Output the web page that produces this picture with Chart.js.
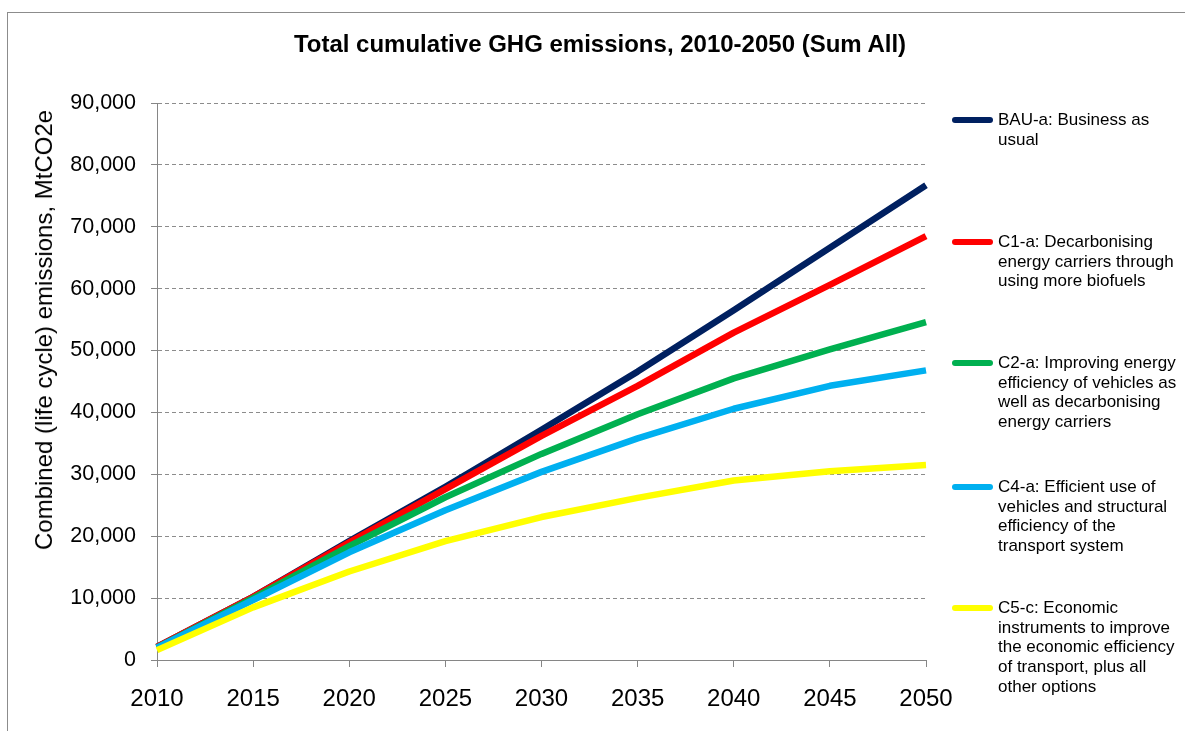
<!DOCTYPE html>
<html>
<head>
<meta charset="utf-8">
<script src="https://cdn.jsdelivr.net/npm/chart.js@4.4.0/dist/chart.umd.min.js"></script>
<style>
  html, body { margin: 0; padding: 0; background: #fff; width: 1185px; height: 731px; overflow: hidden; font-family: "Liberation Sans", Arial, sans-serif; }
  #frame { position: absolute; left: 7px; top: 12px; width: 1300px; height: 900px; border-left: 1px solid #8c8c8c; border-top: 1px solid #8c8c8c; }
  #wrap { position: absolute; left: 0; top: 0; width: 1185px; height: 731px; }
  #title { position: absolute; left: 0; width: 1200px; top: 30px; text-align: center; font-weight: bold; font-size: 24px; line-height: 28px; color: #000; white-space: nowrap; }
  #ytitle { position: absolute; left: 44px; top: 330px; transform: translate(-50%, -50%) rotate(-90deg); font-size: 24px; white-space: nowrap; color: #000; }
  .leg-line { position: absolute; height: 6px; border-radius: 3px; width: 41px; left: 952px; }
  .leg-text { position: absolute; left: 998px; font-size: 17px; line-height: 19.7px; color: #000; white-space: pre; }
</style>
</head>
<body>
<div id="frame"></div>
<div id="wrap"><canvas id="c" width="1185" height="731"></canvas></div>
<div id="title">Total cumulative GHG emissions, 2010-2050 (Sum All)</div>
<div id="ytitle">Combined (life cycle) emissions, MtCO2e</div>
<div id="legend"></div>
<script>
const years = ["2010", "2015", "2020", "2025", "2030", "2035", "2040", "2045", "2050"];
const yTicks = [0, 10000, 20000, 30000, 40000, 50000, 60000, 70000, 80000, 90000];

const bauA = [2100, 10200, 19200, 28000, 37200, 46600, 56500, 66600, 76700];
const c1A  = [2100, 10200, 19000, 27600, 36200, 44300, 52900, 60600, 68500];
const c2A  = [2000, 10000, 18400, 26300, 33300, 39700, 45500, 50200, 54600];
const c4A  = [2000,  9700, 17400, 24200, 30400, 35800, 40600, 44300, 46800];
const c5C  = [1600,  8500, 14300, 19200, 23100, 26200, 29000, 30500, 31500];

const seriesNames = [
  "BAU-a: Business as\nusual",
  "C1-a: Decarbonising\nenergy carriers through\nusing more biofuels",
  "C2-a: Improving energy\nefficiency of vehicles as\nwell as decarbonising\nenergy carriers",
  "C4-a: Efficient use of\nvehicles and structural\nefficiency of the\ntransport system",
  "C5-c: Economic\ninstruments to improve\nthe economic efficiency\nof transport, plus all\nother options"
];
const seriesValues = [bauA, c1A, c2A, c4A, c5C];
const seriesColors = ["#002060", "#FF0000", "#00B050", "#00B0F0", "#FFFF00"];
const legendTops = [120, 242, 363, 487, 608];

const datasets = seriesValues.map((v, i) => ({
  label: seriesNames[i],
  data: v,
  borderColor: seriesColors[i],
  backgroundColor: seriesColors[i],
  borderWidth: 6.5,
  pointRadius: 0,
  tension: 0,
  fill: false,
  borderJoinStyle: 'round',
  order: seriesValues.length - i
}));

// HTML legend
const leg = document.getElementById('legend');
seriesNames.forEach((name, i) => {
  const l = document.createElement('div');
  l.className = 'leg-line';
  l.style.top = (legendTops[i] - 3) + 'px';
  l.style.background = seriesColors[i];
  leg.appendChild(l);
  const t = document.createElement('div');
  t.className = 'leg-text';
  t.style.top = (legendTops[i] - 10) + 'px';
  t.textContent = name;
  leg.appendChild(t);
});

const axisColor = '#868686';
new Chart(document.getElementById('c'), {
  type: 'line',
  data: { labels: years, datasets },
  options: {
    responsive: false,
    animation: false,
    events: [],
    layout: { padding: { left: 0, top: 103, right: 259, bottom: 0 } },
    plugins: { legend: { display: false }, title: { display: false }, tooltip: { enabled: false } },
    scales: {
      x: {
        offset: false,
        grid: { display: true, drawOnChartArea: false, drawTicks: true, tickLength: 7, color: axisColor, tickColor: axisColor },
        border: { display: true, color: axisColor, width: 1 },
        ticks: { color: '#000', font: { family: '"Liberation Sans", Arial, sans-serif', size: 24 }, padding: 18, maxRotation: 0, autoSkip: false },
        afterFit: (s) => { s.height = 71; }
      },
      y: {
        min: 0, max: 90000,
        afterBuildTicks: (s) => { s.ticks = yTicks.map(v => ({ value: v })); },
        grid: { display: true, color: '#8c8c8c', lineWidth: 1, tickLength: 6, tickColor: axisColor, tickBorderDash: [] },
        border: { display: true, color: axisColor, width: 1, dash: [4, 3] },
        ticks: { color: '#000', font: { family: '"Liberation Sans", Arial, sans-serif', size: 21.5 }, padding: 15,
          callback: (v) => v.toLocaleString('en-US') },
        afterFit: (s) => { s.width = 157; }
      }
    }
  }
});
</script>
</body>
</html>
